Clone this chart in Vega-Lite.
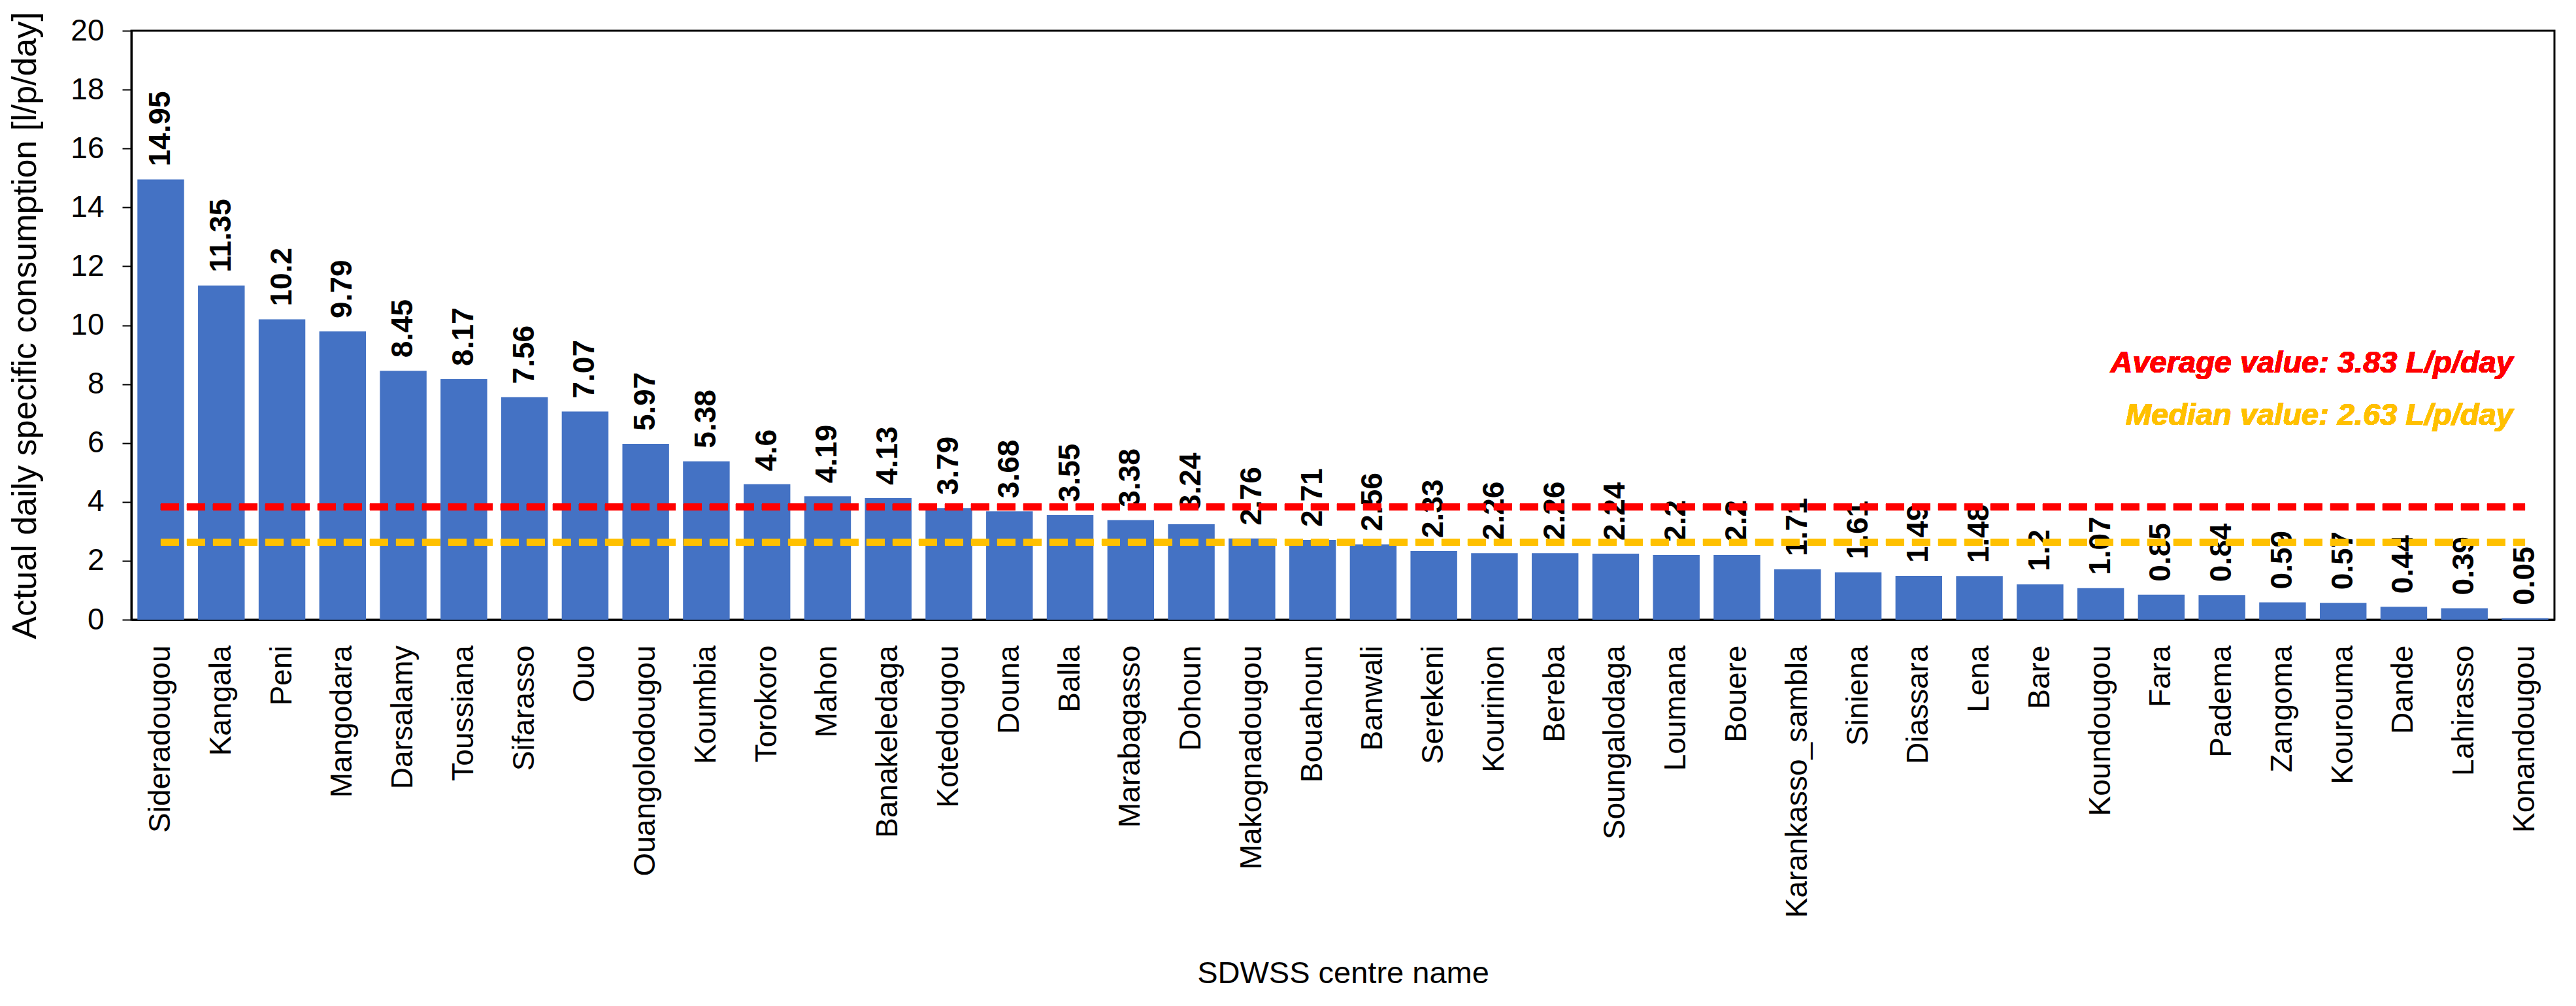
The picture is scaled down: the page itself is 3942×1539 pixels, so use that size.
{
  "$schema": "https://vega.github.io/schema/vega-lite/v6.json",
  "width": 3708,
  "height": 901,
  "autosize": {"type": "none"},
  "padding": {"left": 201, "top": 47, "right": 33, "bottom": 591},
  "background": "white",
  "config": {
    "font": "Liberation Sans",
    "view": {"stroke": "black", "strokeWidth": 3},
    "axis": {"domainColor": "black", "domainWidth": 3, "tickColor": "black", "tickWidth": 2, "labelColor": "black", "titleColor": "black", "titleFontWeight": "normal", "labelFont": "Liberation Sans", "titleFont": "Liberation Sans", "labelLimit": 2000, "titleLimit": 3000}
  },
  "data": {
    "values": [
      {"name": "Sideradougou", "value": 14.95},
      {"name": "Kangala", "value": 11.35},
      {"name": "Peni", "value": 10.2},
      {"name": "Mangodara", "value": 9.79},
      {"name": "Darsalamy", "value": 8.45},
      {"name": "Toussiana", "value": 8.17},
      {"name": "Sifarasso", "value": 7.56},
      {"name": "Ouo", "value": 7.07},
      {"name": "Ouangolodougou", "value": 5.97},
      {"name": "Koumbia", "value": 5.38},
      {"name": "Torokoro", "value": 4.6},
      {"name": "Mahon", "value": 4.19},
      {"name": "Banakeledaga", "value": 4.13},
      {"name": "Kotedougou", "value": 3.79},
      {"name": "Douna", "value": 3.68},
      {"name": "Balla", "value": 3.55},
      {"name": "Marabagasso", "value": 3.38},
      {"name": "Dohoun", "value": 3.24},
      {"name": "Makognadougou", "value": 2.76},
      {"name": "Bouahoun", "value": 2.71},
      {"name": "Banwali", "value": 2.56},
      {"name": "Serekeni", "value": 2.33},
      {"name": "Kourinion", "value": 2.26},
      {"name": "Bereba", "value": 2.26},
      {"name": "Soungalodaga", "value": 2.24},
      {"name": "Loumana", "value": 2.2},
      {"name": "Bouere", "value": 2.2},
      {"name": "Karankasso_sambla", "value": 1.71},
      {"name": "Siniena", "value": 1.61},
      {"name": "Diassara", "value": 1.49},
      {"name": "Lena", "value": 1.48},
      {"name": "Bare", "value": 1.2},
      {"name": "Koundougou", "value": 1.07},
      {"name": "Fara", "value": 0.85},
      {"name": "Padema", "value": 0.84},
      {"name": "Zangoma", "value": 0.59},
      {"name": "Kourouma", "value": 0.57},
      {"name": "Dande", "value": 0.44},
      {"name": "Lahirasso", "value": 0.39},
      {"name": "Konandougou", "value": 0.05}
    ]
  },
  "encoding": {
    "x": {
      "field": "name", "type": "nominal", "sort": null,
      "scale": {"paddingInner": 0.23, "paddingOuter": 0.1},
      "axis": {"title": "SDWSS centre name", "labelAngle": -90, "labelFontSize": 46, "labelPadding": 39, "ticks": false, "titleFontSize": 47, "titleY": 555, "titleBaseline": "alphabetic", "labelOverlap": false}
    }
  },
  "layer": [
    {
      "mark": {"type": "bar", "color": "#4472C4"},
      "encoding": {
        "y": {
          "field": "value", "type": "quantitative",
          "scale": {"domain": [0, 20], "nice": false},
          "axis": {"title": "Actual daily specific consumption [l/p/day]", "values": [0, 2, 4, 6, 8, 10, 12, 14, 16, 18, 20], "grid": false, "tickSize": 14, "labelFontSize": 46, "labelPadding": 28, "titleFontSize": 52, "titlePadding": 42}
        }
      }
    },
    {
      "mark": {"type": "text", "angle": -90, "align": "left", "baseline": "middle", "dx": 20, "fontSize": 46, "fontWeight": "bold", "color": "black"},
      "encoding": {
        "y": {"field": "value", "type": "quantitative"},
        "text": {"field": "value", "type": "quantitative"}
      }
    },
    {
      "mark": {"type": "rule", "color": "#FF0000", "strokeWidth": 10, "strokeDash": [28, 12]},
      "encoding": {
        "x": {"datum": "Sideradougou"},
        "x2": {"datum": "Konandougou"},
        "y": {"datum": 3.83}
      }
    },
    {
      "mark": {"type": "rule", "color": "#FFC000", "strokeWidth": 10, "strokeDash": [28, 12]},
      "encoding": {
        "x": {"datum": "Sideradougou"},
        "x2": {"datum": "Konandougou"},
        "y": {"datum": 2.63}
      }
    },
    {
      "mark": {"type": "text", "align": "right", "baseline": "alphabetic", "dx": -18, "fontSize": 47, "fontWeight": "bold", "fontStyle": "italic", "color": "#FF0000", "text": "Average value: 3.83 L/p/day"},
      "encoding": {
        "x": {"datum": "Konandougou"},
        "y": {"datum": 8.4}
      }
    },
    {
      "mark": {"type": "text", "align": "right", "baseline": "alphabetic", "dx": -18, "fontSize": 47, "fontWeight": "bold", "fontStyle": "italic", "color": "#FFC000", "text": "Median value: 2.63 L/p/day"},
      "encoding": {
        "x": {"datum": "Konandougou"},
        "y": {"datum": 6.62}
      }
    }
  ]
}
